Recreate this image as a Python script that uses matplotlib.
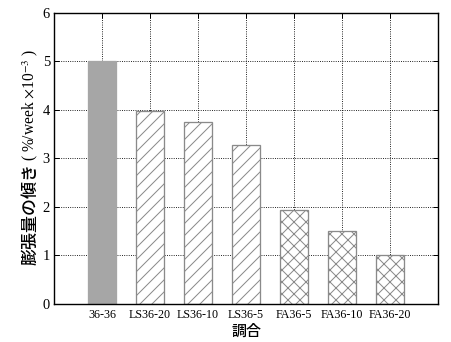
import numpy as np
import matplotlib
matplotlib.use('Agg')
import matplotlib.pyplot as plt

# ── Data: expansion slope per mix (%/week x10^-3) ────────────────────────────
mixes  = ['36-36', 'LS36-20', 'LS36-10', 'LS36-5', 'FA36-5', 'FA36-10', 'FA36-20']
slopes = [5.0, 3.97, 3.74, 3.28, 1.94, 1.51, 1.01]
groups = ['base', 'LS', 'LS', 'LS', 'FA', 'FA', 'FA']

plt.rcParams['mathtext.fontset'] = 'stix'
plt.rcParams['hatch.color'] = '#7a7a7a'
plt.rcParams['hatch.linewidth'] = 1.0

W, H = 451, 342
DPI = 72
fig = plt.figure(figsize=(W / DPI, H / DPI), dpi=DPI)
ax = fig.add_axes([54 / W, 1 - 304 / H, 384 / W, 291.3 / H])

x = np.arange(len(mixes))
styles = {
    'base': dict(color='#a6a6a6', edgecolor='#a6a6a6', hatch=None),
    'LS':   dict(color='white', edgecolor='#8a8a8a', hatch='//'),
    'FA':   dict(color='white', edgecolor='#8a8a8a', hatch='xx'),
}
for xi, val, g in zip(x, slopes, groups):
    st = styles[g]
    ax.bar(xi, val, width=0.59, color=st['color'], edgecolor=st['edgecolor'],
           hatch=st['hatch'], linewidth=1.3, zorder=3)

ax.set_xlim(-1, len(mixes))
ax.set_ylim(0, 6)
ax.set_xticks(x)
ax.set_xticklabels(mixes, family='Liberation Serif', fontsize=12)
ax.set_yticks(range(7))
ax.set_yticklabels([str(v) for v in range(7)], family='Liberation Serif', fontsize=14.5)

ax.grid(True, color='black', ls=(0, (1, 1.5)), lw=0.9, zorder=1)
ax.tick_params(direction='in', top=True, right=True, length=5, width=1.0,
               colors='black', pad=5)
ax.tick_params(axis='y', pad=4)
for sp in ax.spines.values():
    sp.set_linewidth(1.4)
    sp.set_zorder(5)

# y label: Japanese part in gothic, unit part in serif
lab_x = 30.5 / W
jp = fig.text(lab_x, 1 - 265 / H, '膨張量の傾き', family='Noto Sans CJK JP',
              fontsize=17, fontweight='medium', rotation=90, ha='center', va='bottom')
fig.canvas.draw()
jp_top = jp.get_window_extent().y1
fig.text(lab_x, (jp_top + 2) / H, r'( %/week $\times$10$^{-3}$ )',
         family='Liberation Serif', fontsize=15.5, rotation=90,
         ha='center', va='bottom')

fig.text(246.5 / W, 1 - 331 / H, '調合', family='Noto Sans CJK JP',
         fontsize=15, fontweight='medium', ha='center', va='center')

fig.savefig('out.png', dpi=DPI)
